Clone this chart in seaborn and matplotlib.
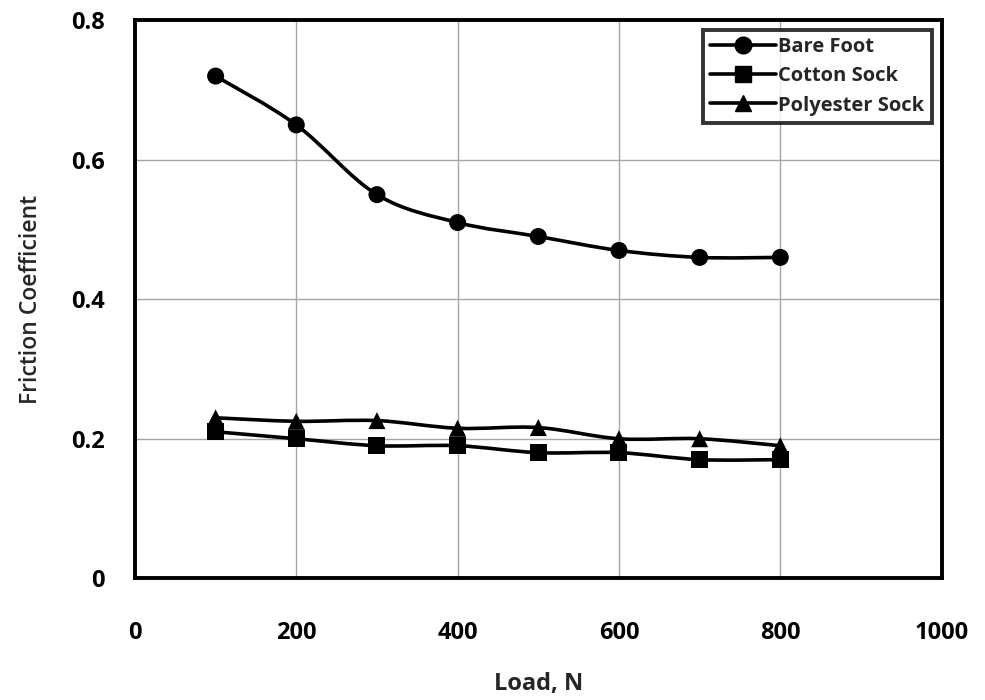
import numpy as np
import pandas as pd
import matplotlib
matplotlib.use("Agg")
import matplotlib.pyplot as plt
import seaborn as sns
from matplotlib.path import Path
from matplotlib.patches import PathPatch
from matplotlib.lines import Line2D

load = [100, 200, 300, 400, 500, 600, 700, 800]
bare_foot = [0.72, 0.65, 0.55, 0.51, 0.49, 0.47, 0.46, 0.46]
cotton_sock = [0.21, 0.20, 0.19, 0.19, 0.18, 0.18, 0.17, 0.17]
polyester_sock = [0.23, 0.225, 0.226, 0.215, 0.216, 0.20, 0.20, 0.19]
series_names = ["Bare Foot", "Cotton Sock", "Polyester Sock"]
markers = ["o", "s", "^"]

x_ticks = [0, 200, 400, 600, 800, 1000]
y_ticks = [0, 0.2, 0.4, 0.6, 0.8]
y_tick_labels = ["0", "0.2", "0.4", "0.6", "0.8"]

df = pd.DataFrame({
    "Load": load * 3,
    "Friction": bare_foot + cotton_sock + polyester_sock,
    "Series": [series_names[0]] * len(load) + [series_names[1]] * len(load) + [series_names[2]] * len(load),
})

sns.set_style("white")
plt.rcParams["font.family"] = ["Open Sans", "DejaVu Sans"]

fig = plt.figure(figsize=(9.85, 7.0), dpi=100)
ax = fig.add_axes([0.137, 0.174, 0.819, 0.797])


def smooth_path(xs, ys, tension=0.5):
    # Excel-like smoothed line: cubic Bezier through the data points
    xs = np.asarray(xs, float)
    ys = np.asarray(ys, float)
    n = len(xs)
    verts = [(xs[0], ys[0])]
    codes = [Path.MOVETO]
    for i in range(n - 1):
        x0, y0 = (xs[i - 1], ys[i - 1]) if i > 0 else (xs[i], ys[i])
        x1, y1 = xs[i], ys[i]
        x2, y2 = xs[i + 1], ys[i + 1]
        x3, y3 = (xs[i + 2], ys[i + 2]) if i + 2 < n else (xs[i + 1], ys[i + 1])
        c1 = (x1 + (x2 - x0) * tension / 3, y1 + (y2 - y0) * tension / 3)
        c2 = (x2 - (x3 - x1) * tension / 3, y2 - (y3 - y1) * tension / 3)
        verts += [c1, c2, (x2, y2)]
        codes += [Path.CURVE4] * 3
    return Path(verts, codes)


for name in series_names:
    sub = df[df["Series"] == name]
    ax.add_patch(PathPatch(smooth_path(sub["Load"], sub["Friction"], tension=0.5),
                           facecolor="none", edgecolor="black", lw=2.6, zorder=3))

sns.scatterplot(data=df, x="Load", y="Friction", style="Series", markers=markers,
                color="black", s=150, edgecolor="black", linewidth=0,
                legend=False, ax=ax, zorder=4)

ax.set_xlim(0, 1000)
ax.set_ylim(0, 0.8)
ax.set_xticks(x_ticks)
ax.set_yticks(y_ticks)
ax.set_yticklabels(y_tick_labels)
ax.grid(True, color="#a6a6a6", lw=1.0)
ax.set_axisbelow(True)
for sp in ax.spines.values():
    sp.set_color("black")
    sp.set_linewidth(2.8)
ax.tick_params(axis="both", length=0, labelsize=17, colors="black")
ax.tick_params(axis="x", pad=31)
ax.tick_params(axis="y", pad=22)
for lbl in ax.get_xticklabels() + ax.get_yticklabels():
    lbl.set_fontweight("bold")

ax.set_xlabel("Load, N", fontsize=17, fontweight="bold", labelpad=19)
ax.set_ylabel("Friction Coefficient", fontsize=16.5, fontweight="semibold", labelpad=20)

handles = [Line2D([0], [0], color="black", lw=2.6, marker=m, markersize=12)
           for m in markers]
leg = ax.legend(handles, series_names, loc="upper right",
                frameon=True, fancybox=False, handlelength=3.3,
                handletextpad=0.1, borderpad=0.35, labelspacing=0.45,
                borderaxespad=0.5, prop={"weight": "bold", "size": 14.5})
leg.get_frame().set_edgecolor("black")
leg.get_frame().set_linewidth(2.8)

fig.savefig("out.png", dpi=100)
